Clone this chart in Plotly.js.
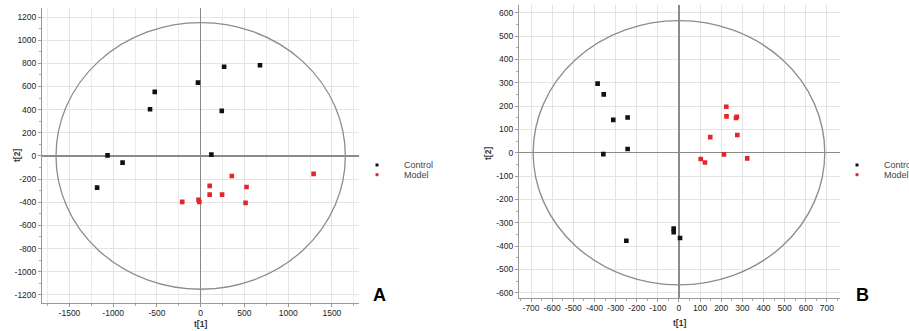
<!DOCTYPE html>
<html><head><meta charset="utf-8">
<script src="https://cdn.plot.ly/plotly-3.0.1.min.js"></script>
<style>html,body{margin:0;padding:0;background:#fff}</style>
</head><body><div id="chart" style="width:909px;height:331px"></div>
<script>
// ---- data ----
const seriesNames = ['Control', 'Model'];
const panelLabels = ['A', 'B'];
const xTitle = 't[1]';
const yTitle = 't[2]';

// Panel A
const aControlX = [-1184, -1065, -893, -579, -525, -31, 122, 241, 268, 678];
const aControlY = [-274, 5, -58, 403, 553, 633, 11, 389, 771, 783];
const aModelX = [-211, -25, -15, 103, 103, 245, 356, 524, 513, 1291];
const aModelY = [-397, -380, -398, -259, -334, -334, -173, -268, -406, -155];
const aXTicks = [-1500, -1000, -500, 0, 500, 1000, 1500];
const aYTicks = [-1200, -1000, -800, -600, -400, -200, 0, 200, 400, 600, 800, 1000, 1200];
const aEllipse = [1654, 1152]; // Hotelling T2 ellipse semi-axes

// Panel B
const bControlX = [-385, -356, -311, -243, -358, -243, -249, -25, -25, 5];
const bControlY = [296, 250, 141, 151, -6, 16, -377, -325, -340, -365];
const bModelX = [224, 225, 274, 270, 276, 148, 213, 103, 123, 323];
const bModelY = [197, 156, 154, 149, 76, 67, -7, -27, -42, -24];
const bXTicks = [-700, -600, -500, -400, -300, -200, -100, 0, 100, 200, 300, 400, 500, 600, 700];
const bYTicks = [-600, -500, -400, -300, -200, -100, 0, 100, 200, 300, 400, 500, 600];
const bEllipse = [690, 566];

// ---- styling / layout ----
const W = 909, H = 331;
const px = v => v / W;
const py = v => 1 - v / H;
const colors = ['#111111', '#e3262b'];
const FAM = 'Liberation Sans, Arial, sans-serif';
const tickFont = {family: FAM, size: 8.5, color: '#222'};
const lbl = v => String(v);

function axisBase(ticks, minorDtick, minorGrid) {
  return {
    tickmode: 'array', tickvals: ticks, ticktext: ticks.map(lbl),
    tickfont: tickFont,
    showgrid: true, gridcolor: '#e4e4e4', gridwidth: 1,
    zeroline: true, zerolinecolor: '#8a8a8a', zerolinewidth: 1.3,
    showline: true, linecolor: '#9a9a9a', linewidth: 1,
    ticks: 'outside', ticklen: 3, tickcolor: '#9a9a9a',
    minor: {tickmode: 'linear', tick0: 0, dtick: minorDtick, ticks: 'outside', ticklen: 2,
            tickcolor: '#aaa', showgrid: minorGrid, gridcolor: '#ececec'},
    fixedrange: true
  };
}

const mk = (x, y, i, xa, ya) => ({
  type: 'scatter', mode: 'markers', x: x, y: y, name: seriesNames[i],
  xaxis: xa, yaxis: ya, showlegend: false,
  marker: {symbol: 'square', size: 4.6, color: colors[i]}
});

const data = [
  mk(aControlX, aControlY, 0, 'x', 'y'),
  mk(aModelX, aModelY, 1, 'x', 'y'),
  mk(bControlX, bControlY, 0, 'x2', 'y2'),
  mk(bModelX, bModelY, 1, 'x2', 'y2')
];

const layout = {
  width: W, height: H,
  margin: {l: 0, r: 0, t: 0, b: 0},
  paper_bgcolor: '#fff', plot_bgcolor: '#fff',
  showlegend: false,
  xaxis: Object.assign(axisBase(aXTicks, 250, true), {
    domain: [px(42), px(359)], range: [-1814, 1810], anchor: 'y', ticklabelstandoff: -1
  }),
  yaxis: Object.assign(axisBase(aYTicks, 100, false), {
    domain: [1 - 302.7 / H, 1 - 8 / H], range: [-1268, 1278], anchor: 'x'
  }),
  xaxis2: Object.assign(axisBase(bXTicks, 50, false), {
    domain: [px(519), px(840)], range: [-757, 762], anchor: 'y2', ticklabelstandoff: -1
  }),
  yaxis2: Object.assign(axisBase(bYTicks, 50, false), {
    domain: [1 - 297.7 / H, 1 - 5 / H], range: [-621, 633], anchor: 'x2'
  }),
  shapes: [
    {type: 'circle', xref: 'x', yref: 'y', x0: -aEllipse[0], x1: aEllipse[0], y0: -aEllipse[1], y1: aEllipse[1],
     line: {color: '#8c8c8c', width: 1.3}},
    {type: 'circle', xref: 'x2', yref: 'y2', x0: -bEllipse[0], x1: bEllipse[0], y0: -bEllipse[1], y1: bEllipse[1],
     line: {color: '#8c8c8c', width: 1.3}}
  ],
  annotations: []
};

// axis titles, placed like the reference
[[200.7, 324, 0], [17, 156, -90], [679, 322.5, 0], [488, 154, -90]].forEach(([ax, ay, rot]) => {
  layout.annotations.push({xref: 'paper', yref: 'paper', x: px(ax), y: py(ay),
    xanchor: 'center', yanchor: 'middle', textangle: rot, showarrow: false,
    text: '<b>' + (rot === 0 ? xTitle : yTitle) + '</b>',
    font: {family: FAM, size: 8.5, color: '#333'}});
});

// manual legends (compact, like the reference)
const legendPos = [[377, 165], [857, 165]];
legendPos.forEach(([lx, ly]) => {
  seriesNames.forEach((name, i) => {
    const yy = ly + i * 9.7;
    layout.shapes.push({type: 'rect', xref: 'paper', yref: 'paper',
      x0: px(lx - 1.5), x1: px(lx + 1.5), y0: py(yy + 1.5), y1: py(yy - 1.5),
      fillcolor: colors[i], line: {width: 0}});
    layout.annotations.push({xref: 'paper', yref: 'paper', x: px(lx + 25), y: py(yy),
      xanchor: 'left', yanchor: 'middle', text: name, showarrow: false,
      font: {family: FAM, size: 9, color: '#444'}});
  });
});

// panel letters
[[379, 295], [862, 295]].forEach(([lx, ly], i) => {
  layout.annotations.push({xref: 'paper', yref: 'paper', x: px(lx), y: py(ly),
    xanchor: 'center', yanchor: 'middle', text: '<b>' + panelLabels[i] + '</b>', showarrow: false,
    font: {family: FAM, size: 18, color: '#000'}});
});

Plotly.newPlot('chart', data, layout, {displayModeBar: false, staticPlot: true});
</script>
</body></html>
